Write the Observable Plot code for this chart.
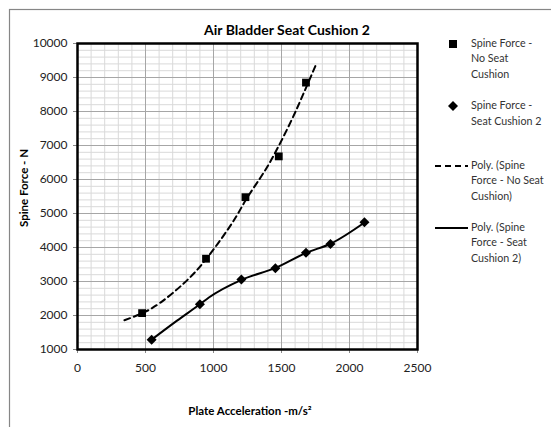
<!DOCTYPE html>
<html><head><meta charset="utf-8">
<script src="https://cdn.jsdelivr.net/npm/d3@7"></script>
<script src="https://cdn.jsdelivr.net/npm/@observablehq/plot@0.6"></script>
<style>body{margin:0;background:#fff;} #chart{position:relative;width:551px;height:427px;overflow:hidden}</style>
</head><body><div id="chart"></div>
<script>
// Data
const noCushionX = [475, 945, 1235, 1480, 1680];
const noCushionY = [2070, 3670, 5480, 6680, 8850];
const cushion2X = [545, 900, 1205, 1455, 1680, 1860, 2110];
const cushion2Y = [1290, 2330, 3060, 3390, 3845, 4100, 4745];
// Trend lines (Excel "Poly." trendlines)
const polyNoX = [345, 475, 610, 780, 946, 1137, 1235, 1346, 1443, 1566, 1662, 1757];
const polyNoY = [1860, 2065, 2380, 2940, 3660, 4720, 5380, 6060, 6710, 7680, 8530, 9410];
const polyC2X = [545, 732, 900, 966, 1206, 1456, 1681, 1860, 2113];
const polyC2Y = [1290, 1850, 2330, 2530, 3050, 3400, 3843, 4110, 4744];
const xTicks = [0, 500, 1000, 1500, 2000, 2500];
const yTicks = [1000, 2000, 3000, 4000, 5000, 6000, 7000, 8000, 9000, 10000];
const title = "Air Bladder Seat Cushion 2";
const xLabel = "Plate Acceleration -m/s²";
const yLabel = "Spine Force - N";
const legendItems = [
  {kind: "square", lines: ["Spine Force -", "No Seat", "Cushion"]},
  {kind: "diamond", lines: ["Spine Force -", "Seat Cushion 2"]},
  {kind: "dashed", lines: ["Poly. (Spine", "Force - No Seat", "Cushion)"]},
  {kind: "solid", lines: ["Poly. (Spine", "Force - Seat", "Cushion 2)"]}
];

const noCushion = noCushionX.map((x, i) => ({x, y: noCushionY[i]}));
const cushion2 = cushion2X.map((x, i) => ({x, y: cushion2Y[i]}));
const polyNo = polyNoX.map((x, i) => ({x, y: polyNoY[i]}));
const polyC2 = polyC2X.map((x, i) => ({x, y: polyC2Y[i]}));

const minorX = d3.range(0, 2501, 100).filter(v => v % 500 !== 0);
const minorY = d3.range(1000, 10001, 200).filter(v => v % 1000 !== 0);

const diamond = {draw(ctx, size) { const r = Math.sqrt(size / 2); ctx.moveTo(0, -r); ctx.lineTo(r, 0); ctx.lineTo(0, r); ctx.lineTo(-r, 0); ctx.closePath(); }};

const FONT = "Lato, 'Open Sans', sans-serif";
const svg = Plot.plot({
  width: 551, height: 427,
  marginLeft: 77, marginRight: 134, marginTop: 43, marginBottom: 78,
  style: {fontFamily: FONT, fontSize: "12px", color: "#000", background: "#fff", overflow: "visible"},
  x: {domain: [0, 2500]},
  y: {domain: [1000, 10000]},
  marks: [
    Plot.ruleX(minorX, {stroke: "#d9d9d9", strokeWidth: 1}),
    Plot.ruleY(minorY, {stroke: "#d9d9d9", strokeWidth: 1}),
    Plot.ruleX(xTicks, {stroke: "#a6a6a6", strokeWidth: 1}),
    Plot.ruleY(yTicks, {stroke: "#a6a6a6", strokeWidth: 1}),
    Plot.axisX(xTicks, {tickSize: 4, tickPadding: 10, label: null, fontSize: 12, stroke: "#888", fill: "#222", tickFormat: d => String(d)}),
    Plot.axisY(yTicks, {tickSize: 4, tickPadding: 6, label: null, fontSize: 12, stroke: "#888", fill: "#222", tickFormat: d => String(d)}),
    Plot.line(polyNo, {x: "x", y: "y", stroke: "#000", strokeWidth: 2, strokeDasharray: "6,4", curve: "natural"}),
    Plot.line(polyC2, {x: "x", y: "y", stroke: "#000", strokeWidth: 2, curve: "monotone-x"}),
    Plot.dot(noCushion, {x: "x", y: "y", symbol: "square", r: 4.4, fill: "#000", stroke: "none"}),
    Plot.dot(cushion2, {x: "x", y: "y", symbol: diamond, r: 4, fill: "#000", stroke: "none"}),
    Plot.frame({stroke: "#000", strokeWidth: 2.5})
  ]
});

const s = d3.select(svg);
// outer chart border
s.insert("rect", ":first-child").attr("x", 9.5).attr("y", 9.5).attr("width", 700).attr("height", 700)
  .attr("fill", "none").attr("stroke", "#868686").attr("stroke-width", 1.2);
s.append("text").attr("x", 287).attr("y", 31).attr("text-anchor", "middle").attr("dominant-baseline", "middle")
  .attr("font-family", FONT).attr("font-weight", "bold").attr("font-size", 14).attr("fill", "#000").text(title);
s.append("text").attr("x", 250).attr("y", 412).attr("text-anchor", "middle").attr("dominant-baseline", "middle")
  .attr("font-family", FONT).attr("font-weight", "bold").attr("font-size", 11.5).attr("fill", "#000").text(xLabel);
s.append("text").attr("transform", "translate(25,188) rotate(-90)").attr("text-anchor", "middle").attr("dominant-baseline", "middle")
  .attr("font-family", FONT).attr("font-weight", "bold").attr("font-size", 11.5).attr("fill", "#000").text(yLabel);

// legend
const legendY = [[44, 59.5, 75], [106, 122], [166, 181.5, 197], [228, 243.5, 259]];
legendItems.forEach((it, i) => {
  const ys = legendY[i];
  const y0 = ys[0];
  if (it.kind === "square") s.append("rect").attr("x", 449).attr("y", y0 - 4).attr("width", 8).attr("height", 8).attr("fill", "#000");
  if (it.kind === "diamond") s.append("path").attr("d", `M453,${y0-5}L458,${y0}L453,${y0+5}L448,${y0}Z`).attr("fill", "#000");
  if (it.kind === "dashed") s.append("line").attr("x1", 435).attr("x2", 468).attr("y1", y0).attr("y2", y0).attr("stroke", "#000").attr("stroke-width", 2).attr("stroke-dasharray", "6,4");
  if (it.kind === "solid") s.append("line").attr("x1", 435).attr("x2", 468).attr("y1", y0).attr("y2", y0).attr("stroke", "#000").attr("stroke-width", 2);
  it.lines.forEach((t, j) => {
    s.append("text").attr("x", 471).attr("y", ys[j]).attr("dominant-baseline", "middle").attr("text-anchor", "start")
      .attr("font-family", FONT).attr("font-size", 10.7).attr("fill", "#333").text(t);
  });
});
document.getElementById("chart").appendChild(svg);
</script>
</body></html>
